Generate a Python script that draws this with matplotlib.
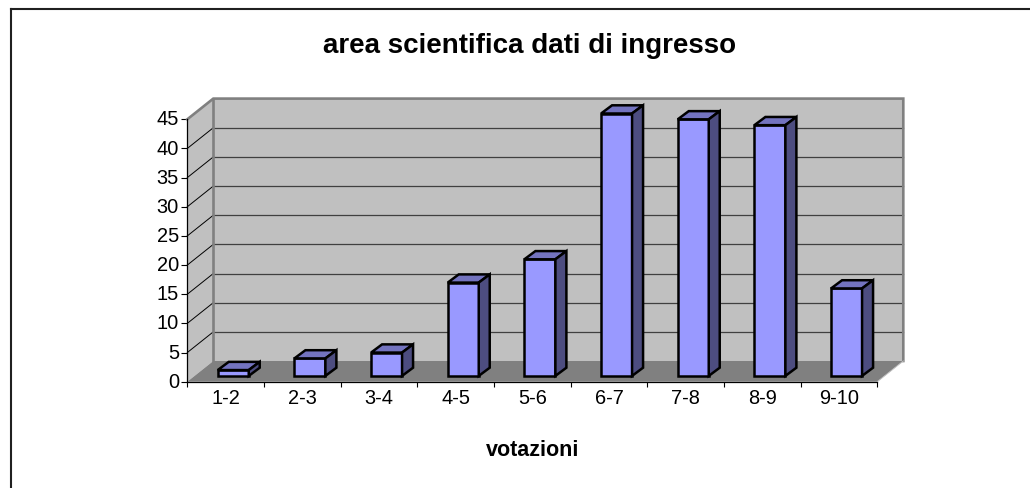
import matplotlib
matplotlib.use("Agg")
import matplotlib.pyplot as plt
from matplotlib.patches import Polygon
from matplotlib.lines import Line2D
from matplotlib.transforms import ScaledTranslation

categories = ["1-2", "2-3", "3-4", "4-5", "5-6", "6-7", "7-8", "8-9", "9-10"]
values = [1, 3, 4, 16, 20, 45, 44, 43, 15]
y_ticks = [0, 5, 10, 15, 20, 25, 30, 35, 40, 45]
title = "area scientifica dati di ingresso"
xlabel = "votazioni"

plt.rcParams["font.family"] = ["Liberation Sans", "DejaVu Sans"]
W, H = 1030, 488
fig = plt.figure(figsize=(W / 100, H / 100), dpi=100, facecolor="white")

# plot box in pixels
L, R, T, B = 187.3, 877.3, 119.3, 381.7
ax = fig.add_axes([L / W, 1 - B / H, (R - L) / W, (B - T) / H], facecolor="none")
ymax = y_ticks[-1]
n = len(categories)
ax.set_xlim(0, n)
ax.set_ylim(0, ymax)

px_x = n / (R - L)
px_y = ymax / (B - T)
DX, DY = 26 * px_x, 20.7 * px_y          # depth of the chart box
BX0, BY0 = 7.6 * px_x, 5.8 * px_y        # bar base shift
BDX, BDY = 11 * px_x, 8.2 * px_y         # bar depth
BW = 31 * px_x

WALL, FLOOR = "#c0c0c0", "#808080"
kw = dict(clip_on=False)
# back wall and side wall
ax.add_patch(Polygon([(DX, DY), (n + DX, DY), (n + DX, ymax + DY), (DX, ymax + DY)],
                     fc=WALL, ec="none", zorder=1, **kw))
ax.add_patch(Polygon([(0, 0), (DX, DY), (DX, ymax + DY), (0, ymax)],
                     fc=WALL, ec="none", zorder=1, **kw))
# floor
ax.add_patch(Polygon([(0, 0), (n, 0), (n + DX, DY), (DX, DY)],
                     fc=FLOOR, ec="none", zorder=1.5, **kw))
# gridlines
for t in y_ticks[1:-1]:
    ax.plot([0, DX], [t, t + DY], color="black", lw=0.7, zorder=2, **kw)
    ax.plot([DX, n + DX], [t + DY, t + DY], color="#404040", lw=0.9, zorder=1.2, **kw)
# wall edges
ax.plot([0, DX, n + DX, n + DX], [ymax, ymax + DY, ymax + DY, DY],
        color=FLOOR, lw=1.9, zorder=2, solid_joinstyle="miter", **kw)
ax.plot([DX, DX], [DY, ymax + DY], color=FLOOR, lw=1.9, zorder=2, **kw)
ax.plot([n, n + DX], [0, DY], color=WALL, lw=0.7, zorder=2, **kw)

# bars
LW = 1.8
for i, v in enumerate(values):
    x0 = i + 0.5 - BW / 2 + BX0
    x1 = x0 + BW
    y0 = BY0
    y1 = BY0 + v
    ax.bar(x0, v, width=BW, bottom=y0, align="edge", color="#9999ff",
           edgecolor="black", linewidth=LW, zorder=4 + i, clip_on=False, joinstyle="miter")
    ax.add_patch(Polygon([(x0, y1), (x1, y1), (x1 + BDX, y1 + BDY), (x0 + BDX, y1 + BDY)],
                         fc="#7373bf", ec="black", lw=LW, zorder=4 + i, joinstyle="miter", **kw))
    ax.add_patch(Polygon([(x1, y0), (x1 + BDX, y0 + BDY), (x1 + BDX, y1 + BDY), (x1, y1)],
                         fc="#4d4d80", ec="black", lw=LW, zorder=4 + i, joinstyle="miter", **kw))

# axes furniture
for s in ["top", "right"]:
    ax.spines[s].set_visible(False)
for s in ["left", "bottom"]:
    ax.spines[s].set_linewidth(0.9)
    ax.spines[s].set_zorder(30)
ax.set_yticks(y_ticks)
ax.tick_params(axis="y", length=4.5, width=0.8, pad=1.5, labelsize=14.4)
ax.set_xticks(range(n + 1))
ax.set_xticklabels([])
ax.tick_params(axis="x", which="major", length=3.5, width=0.8)
ax.set_xticks([i + 0.5 for i in range(n)], minor=True)
ax.set_xticklabels(categories, minor=True, fontsize=14.4)
ax.tick_params(axis="x", which="minor", length=0, pad=5.5)
ax.set_xlabel(xlabel, fontsize=15.5, fontweight="bold", labelpad=22.8)
for lab in ax.get_yticklabels():
    lab.set_transform(lab.get_transform() + ScaledTranslation(0, 1.4 / 100, fig.dpi_scale_trans))
fig.text(530 / W, 1 - 53 / H, title, fontsize=20, fontweight="bold", ha="center", va="baseline")

# outer frame
fig.add_artist(Line2D([10.5 / W, 10.5 / W], [0, 1 - 8.5 / H], color="#202020", lw=1.5))
fig.add_artist(Line2D([10.5 / W, 1], [1 - 8.5 / H, 1 - 8.5 / H], color="#202020", lw=1.5))

fig.savefig("out.png", dpi=100, facecolor="white")
